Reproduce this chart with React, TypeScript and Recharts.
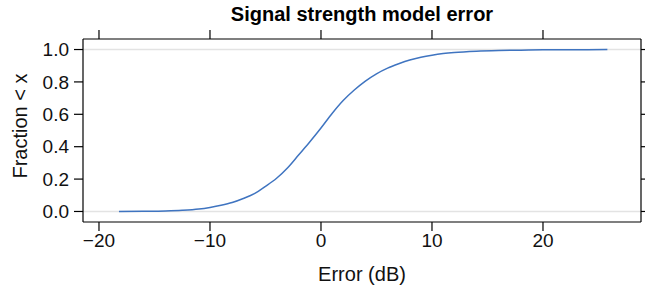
import { LineChart, Line, XAxis, YAxis, ReferenceLine } from "recharts";

// error values (dB) and empirical fraction below each value
const errorDb = [
  -18.2, -16, -14, -12.5, -11, -10, -9, -8, -7, -6, -5, -4, -3, -2, -1, 0, 1, 2,
  3, 4, 5, 6, 7, 8, 9, 10, 11, 12, 14, 16, 18, 20, 22, 24, 25.8,
];
const fraction = [
  0, 0.001, 0.003, 0.007, 0.015, 0.025, 0.038, 0.055, 0.08, 0.11, 0.155, 0.205,
  0.27, 0.35, 0.43, 0.515, 0.605, 0.685, 0.75, 0.805, 0.85, 0.885, 0.912, 0.935,
  0.952, 0.965, 0.975, 0.982, 0.99, 0.994, 0.996, 0.998, 0.999, 0.999, 1.0,
];
const xTicks = [-20, -10, 0, 10, 20];
const yTicks = [0, 0.2, 0.4, 0.6, 0.8, 1.0];

const data = errorDb.map((x, i) => ({ x, f: fraction[i] }));

const font = "'Liberation Sans', Arial, Helvetica, sans-serif";
const ink = "#000";
const xDomain = [-21.44, 28.83];
const yDomain = [-0.065, 1.065];

const fmtX = (v: number) => (v < 0 ? "\u2212" + Math.abs(v) : String(v));
const blank = () => "";

export default function App() {
  const tickStyle = { fill: "#111", fontSize: 19, fontFamily: font };

  return (
    <div style={{ position: "absolute", left: 0, top: 0, width: 645, height: 295, background: "#fff", fontFamily: font }}>
      <LineChart width={645} height={295} data={data} margin={{ top: 0, right: 0, bottom: 0, left: 0 }}>
        <XAxis
          xAxisId="bottom"
          dataKey="x"
          type="number"
          domain={xDomain}
          ticks={xTicks}
          allowDataOverflow
          height={73}
          tickSize={9}
          tickMargin={3}
          tickFormatter={fmtX}
          stroke={ink}
          strokeWidth={1.2}
          tick={tickStyle}
        />
        <XAxis
          xAxisId="top"
          dataKey="x"
          orientation="top"
          type="number"
          domain={xDomain}
          ticks={xTicks}
          allowDataOverflow
          height={39}
          tickSize={9}
          tickFormatter={blank}
          stroke={ink}
          strokeWidth={1.2}
        />
        <YAxis
          yAxisId="left"
          type="number"
          domain={yDomain}
          ticks={yTicks}
          allowDataOverflow
          width={83}
          tickSize={9}
          tickMargin={5}
          tickFormatter={(v: number) => v.toFixed(1)}
          stroke={ink}
          strokeWidth={1.2}
          tick={tickStyle}
        />
        <YAxis
          yAxisId="right"
          orientation="right"
          type="number"
          domain={yDomain}
          ticks={yTicks}
          allowDataOverflow
          width={4}
          tickSize={5}
          tickFormatter={blank}
          stroke={ink}
          strokeWidth={1.2}
        />
        <ReferenceLine xAxisId="bottom" yAxisId="left" y={0} stroke="#e3e3e3" strokeWidth={1.5} />
        <ReferenceLine xAxisId="bottom" yAxisId="left" y={1} stroke="#e3e3e3" strokeWidth={1.5} />
        {/* invisible copy so the top/right frame axes share the same scales */}
        <Line
          xAxisId="top"
          yAxisId="right"
          dataKey="f"
          stroke="none"
          dot={false}
          activeDot={false}
          isAnimationActive={false}
        />
        <Line
          xAxisId="bottom"
          yAxisId="left"
          dataKey="f"
          type="monotone"
          stroke="#3f74c0"
          strokeWidth={1.5}
          dot={false}
          isAnimationActive={false}
        />
      </LineChart>

      <div style={{ position: "absolute", left: 83, width: 558, top: 2, textAlign: "center", fontWeight: "bold", fontSize: 20, lineHeight: "24px", color: "#000" }}>
        Signal strength model error
      </div>
      <div style={{ position: "absolute", left: 83, width: 558, top: 262, textAlign: "center", fontSize: 20, lineHeight: "24px", color: "#111" }}>
        Error (dB)
      </div>
      <div
        style={{
          position: "absolute",
          left: 20,
          top: 126,
          transform: "translate(-50%, -50%) rotate(-90deg)",
          whiteSpace: "nowrap",
          fontSize: 20,
          lineHeight: "24px",
          color: "#111",
        }}
      >
        Fraction &lt; x
      </div>
    </div>
  );
}
